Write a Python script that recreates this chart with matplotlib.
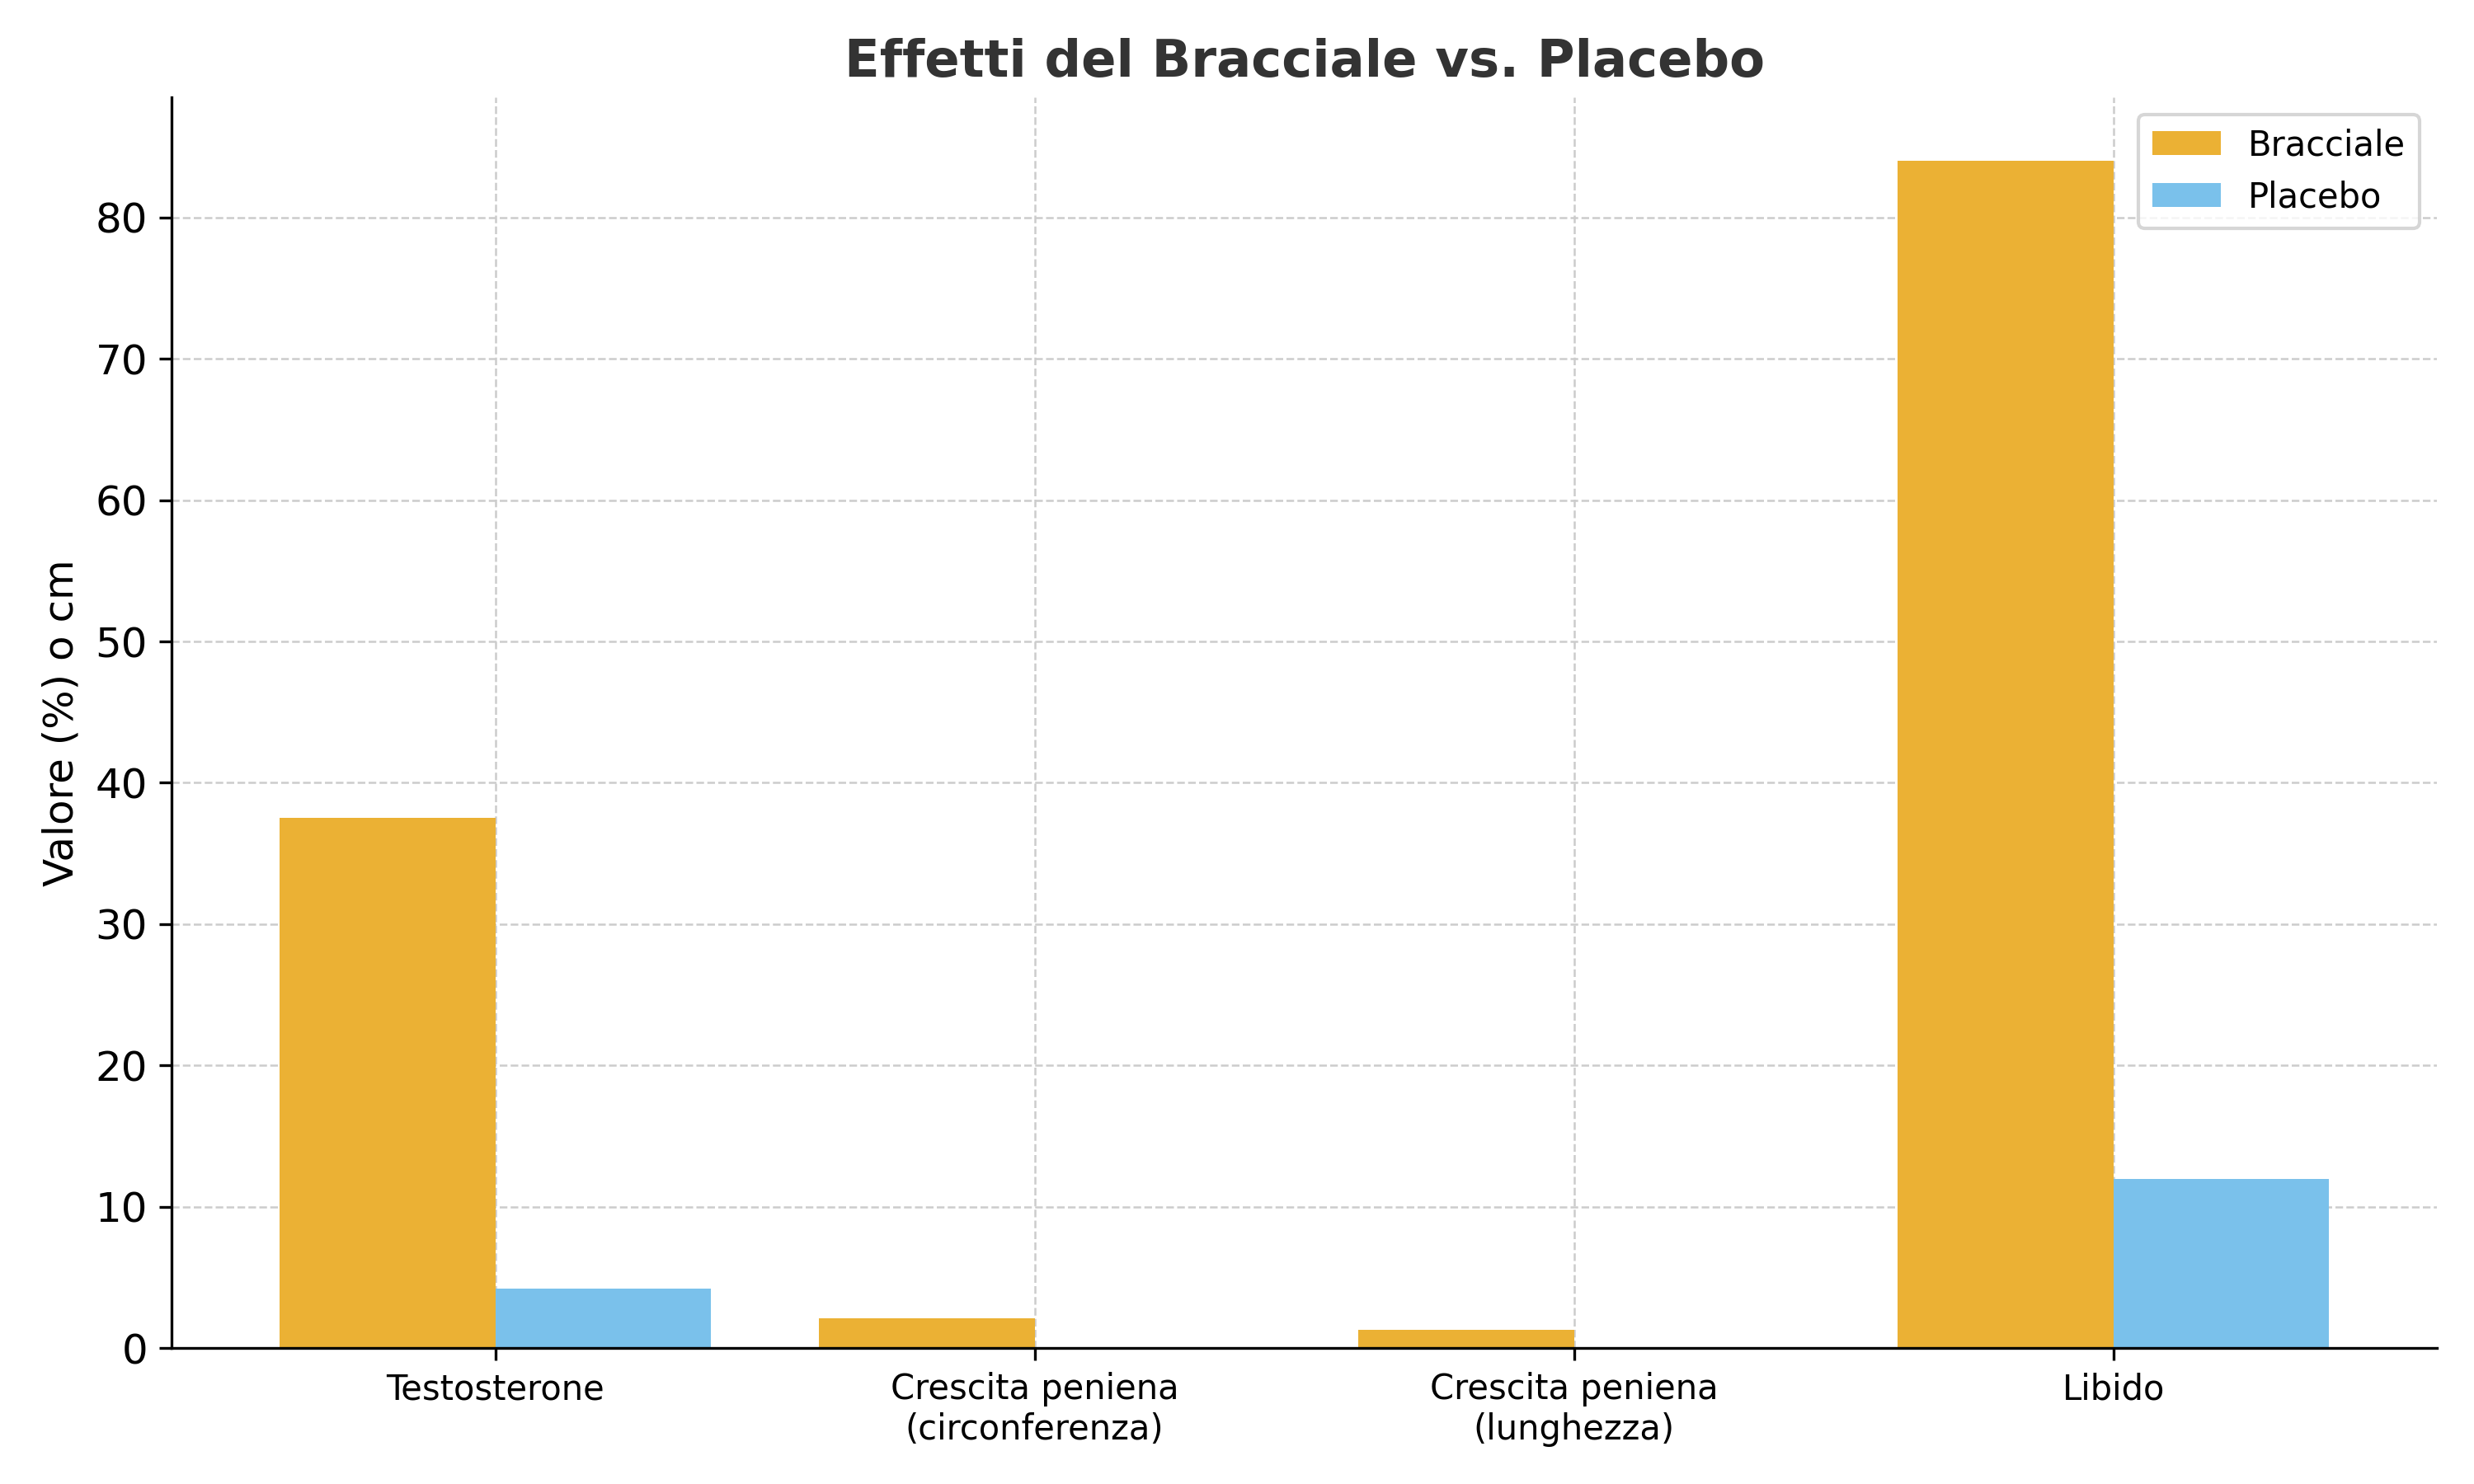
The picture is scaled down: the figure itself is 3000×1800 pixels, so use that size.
import matplotlib.pyplot as plt
import numpy as np

categories = ["Testosterone", "Crescita peniena\n(circonferenza)",
              "Crescita peniena\n(lunghezza)", "Libido"]
bracciale = [37.5, 2.1, 1.3, 84.0]
placebo = [4.2, 0.0, 0.0, 12.0]

x = np.arange(len(categories))
w = 0.4

fig, ax = plt.subplots(figsize=(10, 6))
ax.bar(x - w / 2, bracciale, w, color="#EBB134", label="Bracciale", zorder=2)
ax.bar(x + w / 2, placebo, w, color="#7AC1EB", label="Placebo", zorder=2)

ax.set_xticks(x)
ax.set_xticklabels(categories, fontsize=10)
ax.tick_params(axis="y", labelsize=12)
ax.set_ylabel("Valore (%) o cm", fontsize=12)
ax.set_title("Effetti del Bracciale vs. Placebo", fontsize=15, fontweight="bold", color="#333333")
ax.grid(True, linestyle="--", linewidth=0.6, color="#cccccc", zorder=0)
ax.spines["top"].set_visible(False)
ax.spines["right"].set_visible(False)
ax.set_xlim(-0.6, 3.6)
ax.set_ylim(0, 88.5)
ax.legend(fontsize=10)
plt.tight_layout()
plt.savefig("out.png", dpi=300)
